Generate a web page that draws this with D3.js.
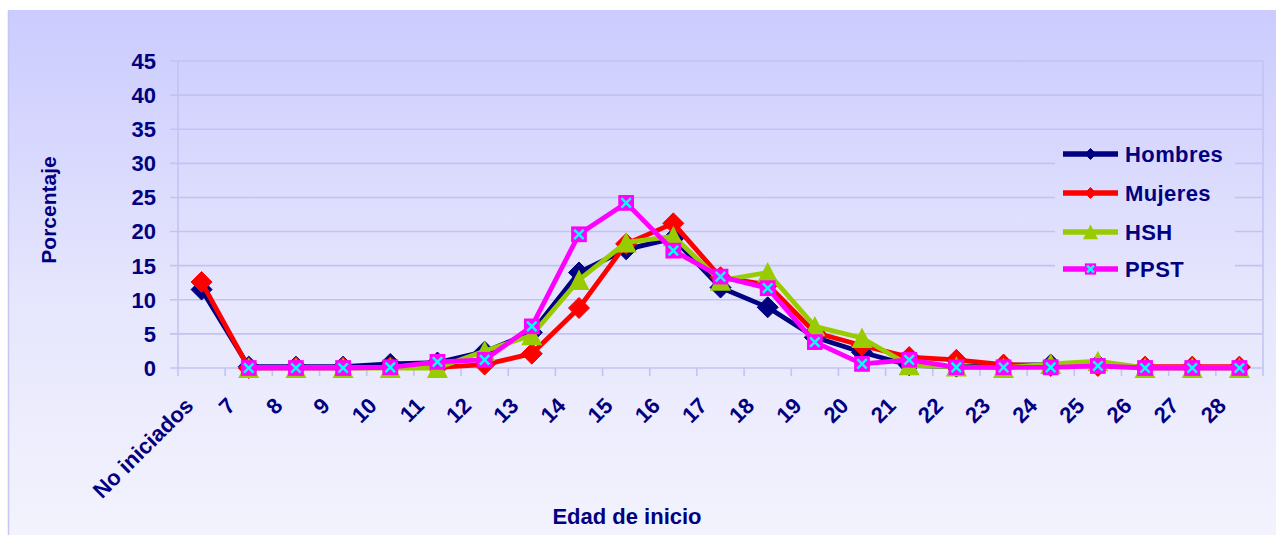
<!DOCTYPE html>
<html>
<head>
<meta charset="utf-8">
<script src="https://cdn.jsdelivr.net/npm/d3@7/dist/d3.min.js"></script>
<style>
  html, body { margin: 0; padding: 0; background: #ffffff; }
  svg { display: block; }
  text { font-family: "Liberation Sans", Arial, sans-serif; font-weight: bold; fill: #000080; }
</style>
</head>
<body>
<svg id="chart" width="1276" height="535"></svg>
<script>
const categories = ["No iniciados","7","8","9","10","11","12","13","14","15","16","17","18","19","20","21","22","23","24","25","26","27","28"];
const hombres = [11.5, 0.2, 0.2, 0.2, 0.6, 0.8, 2.4, 5.2, 14.0, 17.4, 19.0, 11.8, 8.9, 4.5, 2.3, 0.4, 0.2, 0.4, 0.5, 0.5, 0.1, 0.1, 0.1];
const mujeres = [12.6, 0.0, 0.1, 0.1, 0.1, 0.1, 0.5, 2.1, 8.8, 18.2, 21.2, 13.3, 12.2, 5.2, 3.3, 1.6, 1.2, 0.5, 0.3, 0.3, 0.2, 0.2, 0.2];
const hsh     = [null, 0.0, 0.0, 0.0, 0.0, 0.0, 2.5, 4.8, 12.9, 18.4, 19.3, 12.8, 14.0, 6.1, 4.4, 0.4, 0.2, 0.0, 0.6, 1.0, 0.0, 0.0, 0.0];
const ppst    = [null, 0.0, 0.0, 0.0, 0.1, 0.9, 1.2, 6.1, 19.6, 24.2, 17.2, 13.4, 11.7, 3.8, 0.6, 1.2, 0.1, 0.1, 0.1, 0.3, 0.0, 0.0, 0.0];
const yTicks = [0, 5, 10, 15, 20, 25, 30, 35, 40, 45];
const seriesNames = ["Hombres", "Mujeres", "HSH", "PPST"];

const series = [
  { name: seriesNames[0], values: hombres, color: "#000080", marker: "diamond" },
  { name: seriesNames[1], values: mujeres, color: "#ff0000", marker: "diamond" },
  { name: seriesNames[2], values: hsh,     color: "#99cc00", marker: "triangle" },
  { name: seriesNames[3], values: ppst,    color: "#ff00ff", marker: "square" }
];

const svg = d3.select("#chart");
const W = 1276, H = 535;

const defs = svg.append("defs");
const grad = defs.append("linearGradient")
  .attr("id", "bg").attr("gradientUnits", "userSpaceOnUse")
  .attr("x1", 0).attr("y1", 10).attr("x2", 0).attr("y2", 535);
grad.append("stop").attr("offset", "0%").attr("stop-color", "#cbcbff");
grad.append("stop").attr("offset", "55%").attr("stop-color", "#e6e6fd");
grad.append("stop").attr("offset", "100%").attr("stop-color", "#f3f3fd");

svg.append("rect").attr("x", 8).attr("y", 10).attr("width", W - 8).attr("height", H - 10)
  .attr("fill", "url(#bg)");
svg.append("line").attr("x1", 8.5).attr("x2", 8.5).attr("y1", 10).attr("y2", H)
  .attr("stroke", "#c6c6f4").attr("stroke-width", 1.5);

const plotL = 178, plotR = 1263, plotT = 61, plotB = 368;
const x = d3.scaleBand().domain(categories).range([plotL, plotR]);
const y = d3.scaleLinear().domain([0, 45]).range([plotB, plotT]);
const cx = c => x(c) + x.bandwidth() / 2;

const gridColor = "#c3c3f3";

// gridlines
svg.append("g").selectAll("line").data(yTicks).join("line")
  .attr("x1", plotL - 8).attr("x2", plotR)
  .attr("y1", d => y(d)).attr("y2", d => y(d))
  .attr("stroke", gridColor).attr("stroke-width", 1.6);

// plot borders (left axis + right edge)
svg.append("line").attr("x1", plotL).attr("x2", plotL).attr("y1", y(45)).attr("y2", plotB + 8)
  .attr("stroke", gridColor).attr("stroke-width", 1.6);
svg.append("line").attr("x1", plotR).attr("x2", plotR).attr("y1", y(45)).attr("y2", plotB + 8)
  .attr("stroke", gridColor).attr("stroke-width", 1.6);

// x ticks at band boundaries
svg.append("g").selectAll("line").data(categories.slice(1)).join("line")
  .attr("x1", d => x(d)).attr("x2", d => x(d))
  .attr("y1", plotB).attr("y2", plotB + 8)
  .attr("stroke", gridColor).attr("stroke-width", 1.6);

// y tick labels
svg.append("g").selectAll("text").data(yTicks).join("text")
  .attr("x", 156).attr("y", d => y(d))
  .attr("dy", "0.36em")
  .attr("text-anchor", "end")
  .attr("font-size", 22)
  .text(d => d);

// x tick labels
svg.append("g").selectAll("text").data(categories).join("text")
  .attr("transform", (d, i) => `translate(${cx(d) - (i === 0 ? 7 : 12)},${407}) rotate(-45)`)
  .attr("text-anchor", "end")
  .attr("font-size", 22)
  .text(d => d);

// axis titles
svg.append("text")
  .attr("transform", "translate(55.5,210) rotate(-90)")
  .attr("text-anchor", "middle").attr("font-size", 21)
  .text("Porcentaje");
svg.append("text")
  .attr("x", 627).attr("y", 524)
  .attr("text-anchor", "middle").attr("font-size", 22)
  .text("Edad de inicio");

// marker drawing
function drawMarker(g, type, color, s) {
  if (type === "diamond") {
    g.append("path").attr("d", `M0,${-s} L${s},0 L0,${s} L${-s},0 Z`).attr("fill", color).attr("stroke", color).attr("stroke-width", 1);
  } else if (type === "triangle") {
    g.append("path").attr("d", `M0,${-s} L${s},${s * 0.95} L${-s},${s * 0.95} Z`).attr("fill", color);
  } else if (type === "square") {
    const h = s * 0.75;
    g.append("rect").attr("x", -h).attr("y", -h).attr("width", 2 * h).attr("height", 2 * h).attr("fill", color);
    const k = h * 0.6;
    g.append("path").attr("d", `M${-k},${-k} L${k},${k} M${k},${-k} L${-k},${k}`)
      .attr("stroke", "#00ffff").attr("stroke-width", 2.5).attr("fill", "none");
  }
}

const lineGen = d3.line()
  .defined(d => d.v !== null)
  .x(d => cx(d.c)).y(d => y(d.v));

series.forEach(s => {
  const pts = categories.map((c, i) => ({ c, v: s.values[i] }));
  const g = svg.append("g");
  g.append("path").datum(pts)
    .attr("d", lineGen)
    .attr("fill", "none").attr("stroke", s.color)
    .attr("stroke-width", 4.8).attr("stroke-linejoin", "round");
  pts.filter(p => p.v !== null).forEach(p => {
    const mg = g.append("g").attr("transform", `translate(${cx(p.c)},${y(p.v)})`);
    drawMarker(mg, s.marker, s.color, 10.5);
  });
});

// legend
const legend = svg.append("g");
legend.append("rect").attr("x", 1055).attr("y", 134).attr("width", 180).attr("height", 156)
  .attr("fill", "url(#bg)");
const rowY = [154, 193, 232, 269];
series.forEach((s, i) => {
  const ry = rowY[i];
  legend.append("line").attr("x1", 1063).attr("x2", 1118).attr("y1", ry).attr("y2", ry)
    .attr("stroke", s.color).attr("stroke-width", 5.5);
  const mg = legend.append("g").attr("transform", `translate(${(1063 + 1118) / 2},${ry})`);
  drawMarker(mg, s.marker, s.color, s.marker === "diamond" ? 5.5 : 7.5);
  legend.append("text").attr("x", 1125).attr("y", ry).attr("dy", "0.36em")
    .attr("font-size", 22).attr("letter-spacing", 0.4)
    .text(s.name);
});
</script>
</body>
</html>
